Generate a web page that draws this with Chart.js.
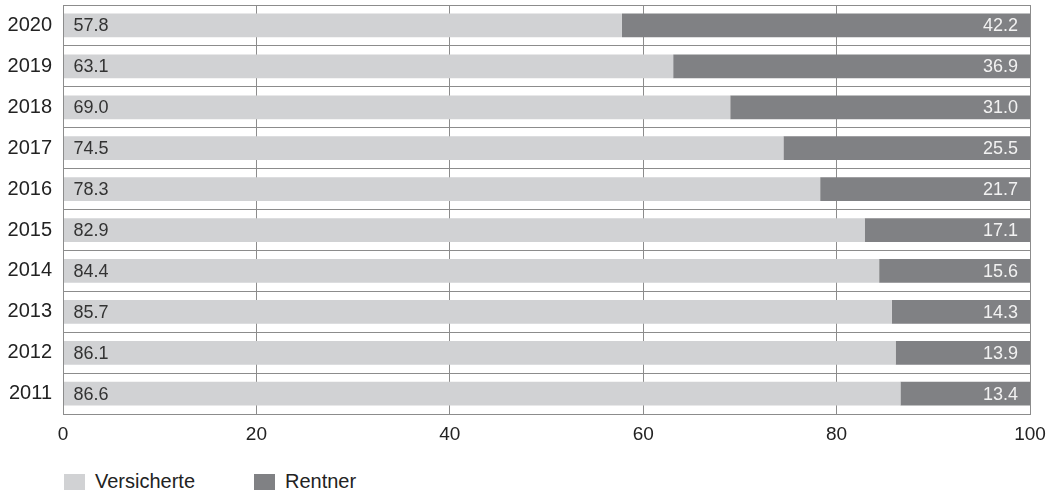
<!DOCTYPE html>
<html>
<head>
<meta charset="utf-8">
<script src="https://cdn.jsdelivr.net/npm/chart.js@4"></script>
<style>
  html, body { margin: 0; padding: 0; background: #fff; }
  #wrap { position: relative; width: 1048px; height: 495px; }
  #chart { position: absolute; left: 0; top: 0; }
  .legend { position: absolute; top: 470px; font: 20px "Liberation Sans", Arial, sans-serif; color: #222; display: flex; align-items: center; }
  .legend span.box { display: inline-block; width: 21px; height: 16px; margin-right: 10px; }
</style>
</head>
<body>
<div id="wrap">
  <canvas id="chart" width="1048" height="455"></canvas>
  <div class="legend" style="left:64px"><span class="box" style="background:#d1d2d4"></span>Versicherte</div>
  <div class="legend" style="left:254px"><span class="box" style="background:#808184"></span>Rentner</div>
</div>
<script>
const years = ["2020", "2019", "2018", "2017", "2016", "2015", "2014", "2013", "2012", "2011"];
const versicherte = [57.8, 63.1, 69.0, 74.5, 78.3, 82.9, 84.4, 85.7, 86.1, 86.6];
const rentner = [42.2, 36.9, 31.0, 25.5, 21.7, 17.1, 15.6, 14.3, 13.9, 13.4];
const xTicks = [0, 20, 40, 60, 80, 100];

const FONT = '"Liberation Sans", Arial, sans-serif';

// Werte in die Balken schreiben
const valueLabels = {
  id: 'valueLabels',
  afterDatasetsDraw(chart) {
    const ctx = chart.ctx;
    ctx.save();
    ctx.font = '18px ' + FONT;
    ctx.textBaseline = 'middle';
    chart.getDatasetMeta(0).data.forEach((bar, i) => {
      ctx.fillStyle = '#333';
      ctx.textAlign = 'left';
      ctx.fillText(versicherte[i].toFixed(1), bar.base + 10, bar.y + 1);
    });
    chart.getDatasetMeta(1).data.forEach((bar, i) => {
      ctx.fillStyle = '#f2f2f2';
      ctx.textAlign = 'right';
      ctx.fillText(rentner[i].toFixed(1), bar.x - 12, bar.y + 1);
    });
    ctx.restore();
  }
};

new Chart(document.getElementById('chart').getContext('2d'), {
  type: 'bar',
  data: {
    labels: years,
    datasets: [
      { label: 'Versicherte', data: versicherte, backgroundColor: '#d1d2d4' },
      { label: 'Rentner', data: rentner, backgroundColor: '#808184' }
    ]
  },
  options: {
    indexAxis: 'y',
    responsive: false,
    animation: false,
    categoryPercentage: 1,
    barPercentage: 0.58,
    layout: { padding: { top: 5, right: 18, left: 0, bottom: 0 } },
    plugins: {
      legend: { display: false },
      tooltip: { enabled: false }
    },
    scales: {
      x: {
        stacked: true,
        min: 0,
        max: 100,
        afterBuildTicks: (s) => { s.ticks = xTicks.map(v => ({ value: v })); },
        afterFit: (s) => { s.paddingRight = 0; s.paddingLeft = 0; },
        ticks: { font: { size: 19, family: FONT }, color: '#222', padding: 9 },
        grid: { color: '#8c8c8c', drawTicks: false },
        border: { color: '#8c8c8c' }
      },
      y: {
        stacked: true,
        afterFit: (s) => { s.width = 63; s.paddingTop = 0; s.paddingBottom = 0; },
        ticks: { font: { size: 20, family: FONT }, color: '#222', padding: 11 },
        grid: { color: '#8c8c8c', drawTicks: false, offset: true },
        border: { color: '#8c8c8c' }
      }
    }
  },
  plugins: [valueLabels, {
    id: 'frame',
    afterDraw(chart) {
      const a = chart.chartArea, ctx = chart.ctx;
      ctx.save();
      ctx.strokeStyle = '#8c8c8c';
      ctx.lineWidth = 1;
      ctx.strokeRect(Math.round(a.left) + 0.5, Math.round(a.top) + 0.5, Math.round(a.right - a.left), Math.round(a.bottom - a.top));
      ctx.restore();
    }
  }]
});
</script>
</body>
</html>
